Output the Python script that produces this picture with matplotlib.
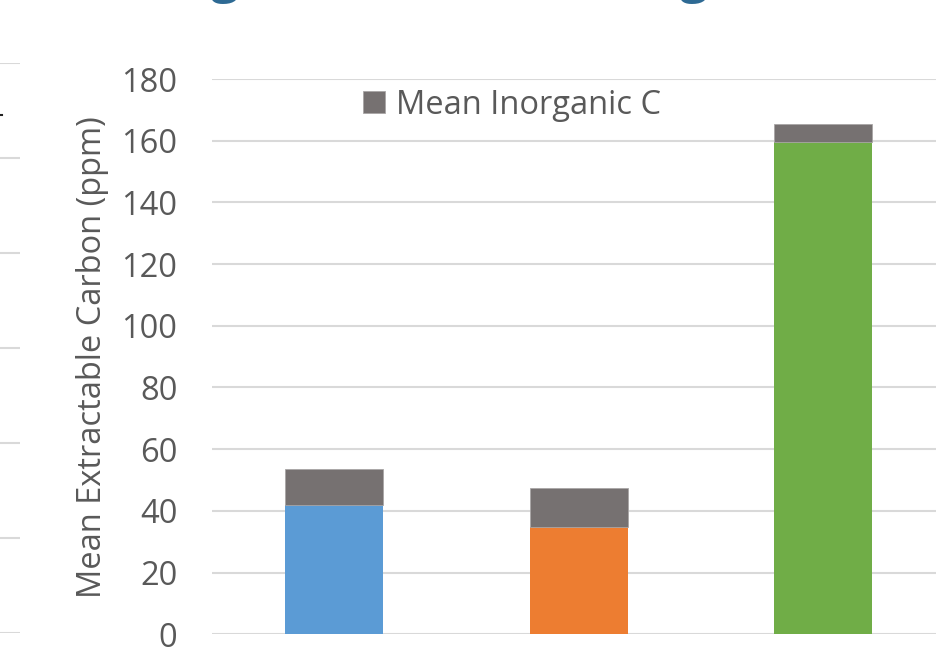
import matplotlib
matplotlib.use("Agg")
import matplotlib.pyplot as plt
from matplotlib.lines import Line2D

plt.rcParams['font.family'] = ['Open Sans', 'DejaVu Sans']

# Mean extractable carbon per treatment (ppm), organic part + inorganic part
treatments = ["A", "B", "C"]
organic_c = [42.0, 34.7, 159.6]
inorganic_c = [11.7, 12.7, 5.8]
bar_colors = ["#5B9BD5", "#ED7D31", "#70AD47"]
yticks = [0, 20, 40, 60, 80, 100, 120, 140, 160, 180]

# neighbouring chart on the slide: only its gridline ends are visible
side_grid = [0, 1, 2, 3, 4, 5, 6]

TEXT = "#595959"
GRID = "#D9D9D9"
W, H = 937, 661

fig = plt.figure(figsize=(W / 100, H / 100), dpi=100)

# main chart (plot area runs past the right edge)
ax = fig.add_axes([212 / W, (H - 634.3) / H, 733.5 / W, 555.3 / H])
x = list(range(len(treatments)))
ax.bar(x, organic_c, width=0.4, color=bar_colors, zorder=3)
ax.bar(x, inorganic_c, width=0.4, bottom=organic_c, color="#767171",
       edgecolor="#A9A6A6", linewidth=0.6, zorder=3, label="Mean Inorganic C")

ax.set_xlim(-0.5, 2.5)
ax.set_ylim(0, 180)
ax.set_yticks(yticks)
ax.set_xticks([])
ax.yaxis.grid(True, color=GRID, linewidth=1.5, zorder=0)
ax.tick_params(axis='y', length=0, pad=25, labelsize=23.5, labelcolor=TEXT)
for s in ax.spines.values():
    s.set_visible(False)

ax.set_ylabel("Mean Extractable Carbon (ppm)", fontsize=23.5, color=TEXT)
ax.yaxis.set_label_coords(-0.141, 0.5)

fig.legend(loc='center', bbox_to_anchor=(512 / W, (H - 105) / H),
           frameon=False, fontsize=23.5, labelcolor=TEXT,
           handlelength=0.66, handleheight=0.66, handletextpad=0.35, borderpad=0)

# left strip with the other chart's gridlines
ax2 = fig.add_axes([0, (H - 633) / H, 20 / W, 570 / H])
ax2.set_xlim(0, 1)
ax2.set_ylim(0, 6)
for g in side_grid:
    ax2.axhline(g, color=GRID, linewidth=1.5)
ax2.axis('off')
fig.add_artist(Line2D([0, 2 / W], [(H - 115) / H] * 2, color="#222222", linewidth=1.5))

# bottoms of the slide title's descenders above the crop
for tx in [225 / W, 694 / W]:
    fig.text(tx, (H + 8) / H, "g", fontsize=36, fontweight='bold',
             color="#2E6A94", ha='center', va='baseline')

fig.savefig("out.png", dpi=100)
